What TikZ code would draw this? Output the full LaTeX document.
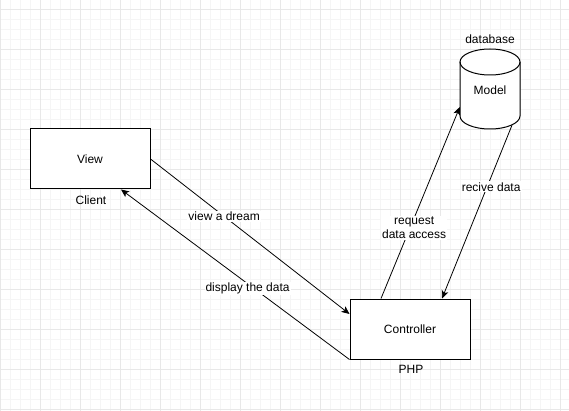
\documentclass[tikz,border=0pt]{standalone}
\usepackage{fontspec}
\setmainfont{Liberation Sans}
\usetikzlibrary{arrows.meta}
\definecolor{gridminor}{HTML}{F5F5F5}
\definecolor{gridmajor}{HTML}{E8E8E8}
\begin{document}
\begin{tikzpicture}[x=1pt,y=-1pt,
  every node/.style={font=\fontsize{12}{14}\selectfont, text=black},
  box/.style={draw=black, line width=1pt, fill=white, minimum width=120pt, minimum height=60pt, inner sep=0pt},
  plain/.style={inner sep=0pt},
  elabel/.style={fill=white, inner sep=1pt, align=center},
  conn/.style={draw=black, line width=0.8pt, -{Stealth[length=8pt,width=7pt,inset=2pt]}}
]
\useasboundingbox (0,0) rectangle (569,411);
\fill[white] (0,0) rectangle (569,411);
% grid
\foreach \x in {10,20,...,560} {\draw[gridminor, line width=1pt] (\x,0) -- (\x,411);}
\foreach \y in {-0.5,9.5,...,410} {\draw[gridminor, line width=1pt] (0,\y) -- (569,\y);}
\foreach \x in {0,40,...,560} {\draw[gridmajor, line width=1pt] (\x,0) -- (\x,411);}
\foreach \y in {9.5,49.5,...,410} {\draw[gridmajor, line width=1pt] (0,\y) -- (569,\y);}

% nodes
\node[box] (view) at (90,159) {View};
\node[box] (ctrl) at (410,329) {Controller};
\node[plain, minimum width=60pt, minimum height=80pt] (model) at (490,89) {};
\fill[white] (460,62) -- (460,116) arc[start angle=180, end angle=0, x radius=30, y radius=13] -- (520,62) arc[start angle=0, end angle=-180, x radius=30, y radius=13] -- cycle;
\draw[black, line width=1pt] (460,62) -- (460,116) arc[start angle=180, end angle=0, x radius=30, y radius=13] -- (520,62);
\draw[black, line width=1pt] (490,62) ellipse[x radius=30, y radius=13];
\node[plain] (modeltext) at (490,90) {Model};

\node[plain] (client) at (91,200) {Client};
\node[plain] (php) at (411,369) {PHP};
\node[plain] (database) at (490,39) {database};

% connectors
\coordinate (a1) at ([yshift=15pt]ctrl.west);
\draw[conn] (view.east) -- node[elabel, pos=0.37] {view a dream} (a1);
\coordinate (a2) at ([xshift=31pt]view.south);
\draw[conn] (ctrl.south west) -- node[elabel, pos=0.42, xshift=-6pt] {display the data} (a2);
\coordinate (a3) at ([xshift=-29pt]ctrl.north);
\coordinate (a4) at ([yshift=-18pt]model.west);
\draw[conn] (a3) -- node[elabel, pos=0.37, xshift=4pt] {request\\data access} (a4);
\coordinate (a5) at ([xshift=22pt,yshift=4pt]model.south);
\coordinate (a6) at ([xshift=32pt]ctrl.north);
\draw[conn] (a5) -- node[elabel, pos=0.355, xshift=4pt] {recive data} (a6);
\end{tikzpicture}
\end{document}
